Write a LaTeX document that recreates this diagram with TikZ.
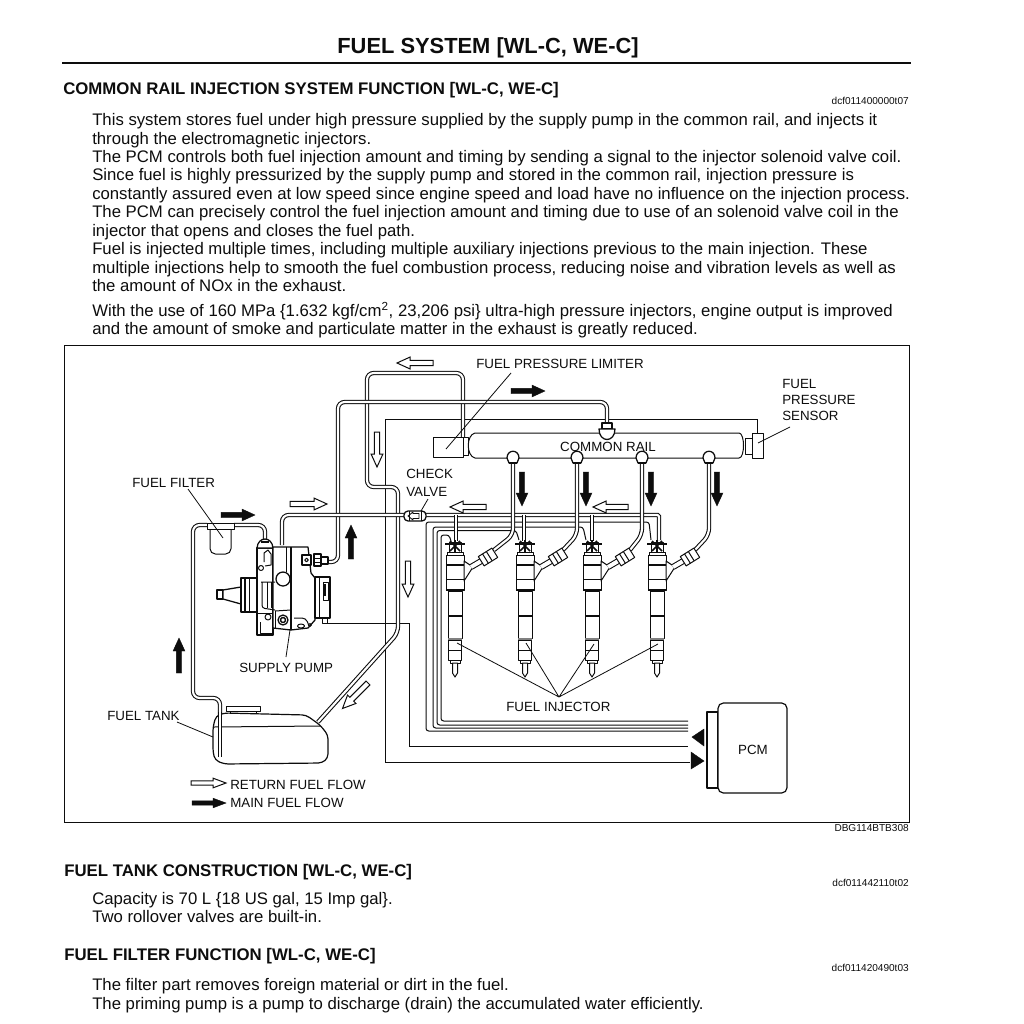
\documentclass[tikz,border=0pt]{standalone}
\usepackage{fontspec}
\setmainfont{Liberation Sans}
\usetikzlibrary{calc}
\definecolor{ink}{gray}{0.05}
\newcommand\openarr[5]{\begin{scope}[shift={(#1,#2)},rotate=#3]
    \path[openfill] (0,-#5) -- (#4-13,-#5) -- (#4-13,-#5*2.2) -- (#4,0) -- (#4-13,#5*2.2) -- (#4-13,#5) -- (0,#5) -- cycle;
  \end{scope}}
\newcommand\mainarr[5]{\begin{scope}[shift={(#1,#2)},rotate=#3]
    \path[mainfill] (0,-#5) -- (#4-13,-#5) -- (#4-13,-#5*2.2) -- (#4,0) -- (#4-13,#5*2.2) -- (#4-13,#5) -- (0,#5) -- cycle;
  \end{scope}}
\newcommand\injector[1]{\begin{scope}[shift={(#1,0)}]
  % top connector
  \filldraw[fill=white,part] (-6,542) rectangle (6,552);
  \draw[part,line width=1pt] (-10,544) -- (10,544);
  \draw[part,line width=1.2pt] (-5,541) -- (5,551) (5,541) -- (-5,551) (0,540) -- (0,552);
  % body
  \filldraw[fill=white,part] (-9,555) rectangle (9,590);
  \filldraw[fill=white,part] (-8,552) rectangle (8,555);
  \draw[part,line width=1.4pt] (-9,565) -- (9,565);
  \draw[part] (-9,579) -- (9,579);
  \draw[part,line width=1.6pt] (-9,590) -- (9,590);
  % shaft
  \filldraw[fill=white,part] (-7,591) rectangle (7,638);
  \draw[part,line width=1.4pt] (-7,616) -- (7,616);
  \draw[part,line width=1.5pt,gray] (-7,638.5) -- (7,638.5);
  % nozzle
  \filldraw[fill=white,part] (-6.5,640) rectangle (6.5,660);
  \draw[part] (-6.5,650) -- (6.5,650);
  \filldraw[fill=white,part] (-5,660) rectangle (5,663);
  \filldraw[fill=white,part] (-2.5,663) -- (2.5,663) -- (2.5,673) -- (0,677) -- (-2.5,673) -- cycle;
  % side port
  \filldraw[fill=white,part] (9,561) -- (18,567) -- (9,581) -- cycle;
  \draw[stub] (16,567) -- (28,560);
  \begin{scope}[shift={(33,557)},rotate=32]
    \filldraw[fill=white,part] (-8,-5.5) rectangle (8,5.5);
    \draw[part] (-3,-5.5) -- (-3,5.5) (1.5,-5.5) -- (1.5,5.5);
  \end{scope}
\end{scope}}
\begin{document}
\begin{tikzpicture}[x=0.75pt,y=-0.75pt,
  body/.style={anchor=base west,inner sep=0,font=\fontsize{12.55}{14}\selectfont,text=ink},
  head/.style={anchor=base west,inner sep=0,font=\fontsize{12.6}{14}\bfseries\selectfont,text=ink},
  code/.style={anchor=base east,inner sep=0,font=\fontsize{7.55}{8}\selectfont,text=ink},
  lab/.style={anchor=base west,inner sep=0,font=\fontsize{10}{12}\selectfont,text=ink},
  labc/.style={anchor=base,inner sep=0,font=\fontsize{10}{12}\selectfont,text=ink},
  tube/.style={draw=ink,double=white,double distance=1.6pt,line width=0.8pt,rounded corners=5pt},
  stub/.style={draw=ink,double=white,double distance=3pt,line width=0.8pt},
  wire/.style={draw=ink,line width=0.75pt,rounded corners=2pt},
  signal/.style={draw=ink,line width=0.65pt},
  part/.style={draw=ink,line width=0.75pt,line join=round},
  partb/.style={draw=ink,line width=0.95pt,line join=round},
  leader/.style={draw=ink,line width=0.6pt},
  openfill/.style={draw=ink,fill=white,line width=0.75pt,line join=miter},
  mainfill/.style={draw=ink,fill=ink,line width=0.3pt},
  tri/.style={fill=ink,draw=ink,line width=0.3pt}]
\useasboundingbox[fill=white] (0,0) rectangle (1024,1024);

% ---------- page text
\node (title) [anchor=base,inner sep=0,font=\fontsize{16.4}{19}\bfseries\selectfont,text=ink] at (488,54) {FUEL SYSTEM [WL-C, WE-C]};
\coordinate (ruleL) at (62,63); \coordinate (ruleR) at (911,63);
\draw[ink,line width=1.3pt] (ruleL) -- (ruleR);
\node (h1) [head] at (63,94) {COMMON RAIL INJECTION SYSTEM FUNCTION [WL-C, WE-C]};
\node (c1) [code] at (909,104) {dcf011400000t07};
\node (t1) [body] at (92,125) {This system stores fuel under high pressure supplied by the supply pump in the common rail, and injects it};
\node (t2) [body] at (92,144) {through the electromagnetic injectors.};
\node (t3) [body] at (92,162) {The PCM controls both fuel injection amount and timing by sending a signal to the injector solenoid valve coil.};
\node (t4) [body] at (92,180.5) {Since fuel is highly pressurized by the supply pump and stored in the common rail, injection pressure is};
\node (t5) [body] at (92,199) {constantly assured even at low speed since engine speed and load have no influence on the injection process.};
\node (t6) [body] at (92,217.5) {The PCM can precisely control the fuel injection amount and timing due to use of an solenoid valve coil in the};
\node (t7) [body] at (92,236) {injector that opens and closes the fuel path.};
\node (t8) [body] at (92,254.5) {Fuel is injected multiple times, including multiple auxiliary injections previous to the main injection. These};
\node (t9) [body] at (92,273) {multiple injections help to smooth the fuel combustion process, reducing noise and vibration levels as well as};
\node (t10) [body] at (92,291) {the amount of NOx in the exhaust.};
\node (t11) [body] at (92,316) {With the use of 160 MPa \{1.632 kgf/cm\textsuperscript{2}, 23,206 psi\} ultra-high pressure injectors, engine output is improved};
\node (t12) [body] at (92,334) {and the amount of smoke and particulate matter in the exhaust is greatly reduced.};
\node (h2) [head] at (64,876) {FUEL TANK CONSTRUCTION [WL-C, WE-C]};
\node (c2) [code] at (909,886) {dcf011442110t02};
\node (t13) [body] at (92,904) {Capacity is 70 L \{18 US gal, 15 Imp gal\}.};
\node (t14) [body] at (92,922) {Two rollover valves are built-in.};
\node (h3) [head] at (64,960) {FUEL FILTER FUNCTION [WL-C, WE-C]};
\node (c3) [code] at (909,971) {dcf011420490t03};
\node (t15) [body] at (92,990) {The filter part removes foreign material or dirt in the fuel.};
\node (t16) [body] at (92,1009) {The priming pump is a pump to discharge (drain) the accumulated water efficiently.};

% ---------- frame
\draw[ink,line width=0.6pt] (64,345) rectangle (909,822);
\node (dbg) [code] at (909,831) {DBG114BTB308};

% ---------- named points
\coordinate (railInlet) at (607,425);
\coordinate (limTop) at (463,437);
\coordinate (valveL) at (404,515);
\coordinate (valveR) at (426,515);

% ---------- signal lines
\draw[signal] (385,762) -- (385,419) -- (757,419) -- (757,433);
\draw[signal] (327,623) -- (409,623) -- (409,746.5) -- (688,746.5);
\draw[signal] (385,762) -- (690,762);

% ---------- wires to injectors
\draw[wire] (688,731) -- (426,731) -- (426,522) -- (649,522) -- (651,540);
\draw[wire] (688,728) -- (433,728) -- (433,527) -- (583,527) -- (586,540);
\draw[wire] (688,725) -- (437,725) -- (437,530.5) -- (516,530.5) -- (519,540);
\draw[wire] (688,721) -- (441,721) -- (441,535) -- (449,535) -- (451,541);

% ---------- return line
\draw[tube] (limTop) -- (463,373) -- (367,373) -- (367,487) -- (398,487) -- (398,633) -- (318,722);
\draw[tube,rounded corners=1pt] (valveR) -- (659,515) -- (659,540);
\draw[tube,rounded corners=0] (456,515) -- (456,541);
\draw[tube,rounded corners=0] (524,515) -- (524,541);
\draw[tube,rounded corners=0] (592,515) -- (592,541);

% ---------- feed line to rail
\draw[tube] (322,562) -- (338,562) -- (338,402) -- (607,402) -- (railInlet);
\draw[tube] (282,545) -- (282,515) -- (valveL);
% tank to filter to pump
\draw[tube] (220,757) -- (220,698) -- (193,698) -- (193,525) -- (207,525);
\draw[tube] (234,525) -- (265,525) -- (265,542);

% ---------- rail
\filldraw[fill=white,part] (433,437) rectangle (463,457);
\filldraw[fill=white,part] (463,437) rectangle (468,455);
\draw[fill=white,part] (475,433) -- (739,433) .. controls (745,433) and (745,458) .. (739,458) -- (475,458) .. controls (466,456) and (466,435) .. (475,433) -- cycle;
\filldraw[fill=white,part] (745,438) rectangle (752,454);
\filldraw[fill=white,part] (752,433) rectangle (763,458);
\filldraw[fill=white,partb] (602,423) rectangle (612,429);
\draw[fill=white,partb] (599,429) -- (615,429) .. controls (615,443) and (599,443) .. (599,429) -- cycle;
\node (rail) [labc] at (608,451) {COMMON RAIL};

% ---------- injector feed tubes
\draw[tube] (513,462) -- (513,535) -- (494,550);
\draw[tube] (577,462) -- (577,535) -- (563,550);
\draw[tube] (642,462) -- (642,535) -- (630,550);
\draw[tube] (709,462) -- (709,535) -- (695,550);
\foreach \x in {513,577,642,709} {
  \filldraw[fill=white,partb] (\x-6,458) .. controls (\x-6,449) and (\x+6,449) .. (\x+6,458) -- (\x+4,463) -- (\x-4,463) -- cycle;
  \draw[partb] (\x-4,463) -- (\x+4,463);
}

% ---------- injectors
\injector{455}
\injector{525}
\injector{592}
\injector{657}

% ---------- check valve
\draw[fill=white,partb,rounded corners=3pt] (404,511) rectangle (426,521);
\draw[part] (409,511) -- (409,521) (421,511) -- (421,521);
\draw[part,line width=0.6pt] (419,513.5) -- (413,513.5) -- (413,512) -- (408,516) -- (413,520) -- (413,518.5) -- (419,518.5) -- cycle;

% ---------- fuel filter
\draw[fill=white,part,rounded corners=4pt] (210,529) -- (210,554) -- (231,554) -- (231,529);
\filldraw[fill=white,part] (207,523) rectangle (234,529);

% ---------- supply pump
\filldraw[fill=white,partb] (217,590) rectangle (223,599);
\draw[fill=white,partb] (223,590) -- (241,587) -- (241,604) -- (223,599) -- cycle;
\filldraw[fill=white,partb] (241,578) rectangle (257,612);
\draw[part,line width=1.8pt] (245,579) -- (245,611);
\draw[part] (249,579) -- (249,611);
\filldraw[fill=white,partb] (257,548) -- (273,548) -- (273,635) -- (257,635) -- cycle;
\draw[fill=white,partb] (257,548) .. controls (258,536) and (272,536) .. (273,548) -- cycle;
\draw[part,line width=2.2pt] (261,542) -- (269,542);
\draw[fill=white,partb] (273,547) -- (308,547) -- (311,573) -- (315,578) -- (315,620) -- (308,628) -- (291,630) -- (273,628) -- cycle;
\draw[part,line width=1.2pt] (291,547) -- (291,630);
\draw[part] (286,547) -- (286,572);
\filldraw[fill=white,partb] (315,577) -- (330,577) -- (330,618) -- (315,618) -- cycle;
\draw[part] (319,577) -- (319,618) (323,582) -- (323,600) -- (328,600) -- (328,582) -- cycle;
\draw[part,line width=1.6pt] (325,584) -- (325,596);
\draw[part] (322,618) -- (322,623) -- (327,623) -- (327,618);
\filldraw[fill=white,partb] (283,579) circle (7);
\filldraw[fill=white,partb] (283,620) circle (5);
\draw[part,line width=1.1pt] (283,620) circle (2.5);
\draw[part] (268,617) circle (3);
\draw[part] (261,568) circle (2.5);
\draw[part] (264,562) -- (264,553) -- (268,550) -- (271,554) -- (271,565) -- (265,566);
\draw[part] (260,622) -- (260,633) -- (273,633);
\draw[part] (257,613) -- (273,613);
\draw[part,rounded corners=2pt] (261,582) -- (275,582) (262,582) -- (262,608) -- (275,610);
\draw[part] (267,582) -- (267,608) (271,582) -- (271,608);
\draw[part,rounded corners=3pt] (275,611) -- (291,610) (294,618) -- (306,618) -- (309,626);
\draw[part] (275,611) -- (275,628);
\draw[part] (301,626) ellipse (3.5 and 2);
\draw[part] (310,625) circle (1.5);
\filldraw[fill=white,partb] (302,555) rectangle (311,565);
\draw[part] (306.5,560) circle (1.8);
\filldraw[fill=white,partb] (314,554) rectangle (321,566);
\filldraw[fill=white,partb] (321,557) rectangle (328,564);
\draw[part] (314,558) -- (321,558) (314,562) -- (321,562);

% ---------- fuel tank
\draw[fill=white,part,line width=0.9pt,rounded corners=3pt] (213,727) -- (216,716) -- (224,713) -- (306,715) -- (320,725) -- (328,735) -- (328,758) -- (322,763) -- (224,764) -- (215,760) -- (213,752) -- cycle;
\draw[part] (214,727) -- (320,726);
\filldraw[fill=white,part] (226,706) rectangle (260,711);
\draw[part] (230,711) -- (230,713) (256,711) -- (256,714);
\draw[tube,rounded corners=0] (220,757) -- (220,712);

% ---------- PCM
\draw[fill=white,part,line width=0.9pt] (707,712) rectangle (718,788);
\draw[fill=white,part,line width=0.9pt,rounded corners=4pt] (718,703) rectangle (787,793);
\node (pcm) [labc] at (753,754) {PCM};
\path[tri] (692,737) -- (704,729) -- (704,746) -- cycle;
\path[tri] (691,752) -- (704,761) -- (691,769) -- cycle;

% ---------- flow arrows
\openarr{433}{363}{180}{36}{2.7}
\mainarr{511}{391}{0}{34}{2.7}
\openarr{377}{432}{270}{35}{2.7}
\openarr{486}{507}{180}{36}{2.7}
\openarr{628}{507}{180}{35}{2.7}
\mainarr{522}{472}{270}{34}{2.7}
\mainarr{586}{472}{270}{34}{2.7}
\mainarr{651}{472}{270}{34}{2.7}
\mainarr{717}{472}{270}{34}{2.7}
\mainarr{221}{515}{0}{34}{2.7}
\openarr{290}{504}{0}{37}{2.7}
\mainarr{351}{559}{90}{34}{2.7}
\openarr{408}{561}{270}{36}{2.7}
\mainarr{179}{673}{90}{35}{2.7}
\openarr{368}{683}{225}{36}{2.7}
\openarr{191}{783}{0}{35}{2.2}
\mainarr{192}{803}{0}{34}{2.2}

% ---------- labels and leaders
\node (lim) [lab] at (476,368) {FUEL PRESSURE LIMITER};
\draw[leader] (511,373) -- (446,449);
\node (sen1) [lab] at (782,388) {FUEL};
\node (sen2) [lab] at (782,404) {PRESSURE};
\node (sen3) [lab] at (782,420) {SENSOR};
\draw[leader] (790,427) -- (758,443);
\node (chk1) [lab] at (406,478) {CHECK};
\node (chk2) [lab] at (406,496) {VALVE};
\draw[leader] (428,499) -- (421,511);
\node (fil) [lab] at (132,487) {FUEL FILTER};
\draw[leader] (188,489) -- (223,538);
\node (pmp) [lab] at (239,672) {SUPPLY PUMP};
\draw[leader] (286,657) -- (290,630);
\node (tank) [lab] at (107,720) {FUEL TANK};
\draw[leader] (177,722) -- (213,737);
\node (inj) [lab] at (506,711) {FUEL INJECTOR};
\coordinate (apex) at (559,697);
\draw[leader] (apex) -- (457,643) (apex) -- (526,643) (apex) -- (594,644) (apex) -- (658,644);
\node (ret) [lab] at (230,789) {RETURN FUEL FLOW};
\node (mai) [lab] at (230,807) {MAIN FUEL FLOW};
\end{tikzpicture}
\end{document}
